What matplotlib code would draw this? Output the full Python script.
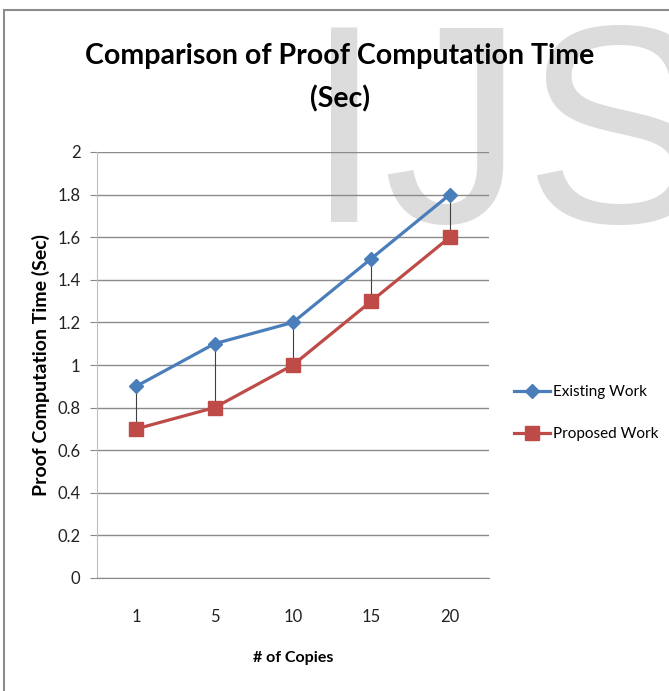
import matplotlib
matplotlib.use("Agg")
import matplotlib.pyplot as plt
from matplotlib.patches import Rectangle

categories = ["1", "5", "10", "15", "20"]
existing = [0.9, 1.1, 1.2, 1.5, 1.8]
proposed = [0.7, 0.8, 1.0, 1.3, 1.6]
yticks = [0, 0.2, 0.4, 0.6, 0.8, 1, 1.2, 1.4, 1.6, 1.8, 2]
ytick_labels = ["0", "0.2", "0.4", "0.6", "0.8", "1", "1.2", "1.4", "1.6", "1.8", "2"]

W, H = 669, 691
fig = plt.figure(figsize=(W / 100, H / 100), dpi=100)
NARROW = ["Lato", "DejaVu Sans"]

# border
fig.patches.append(Rectangle((4 / W, -0.1), 1.2, 1 - 10 / H + 0.1, transform=fig.transFigure,
                             fill=False, edgecolor="#8c8c8c", linewidth=1.5, zorder=-5))
# watermark
fig.text(305 / W, 1 - 222 / H, "IJS", fontsize=203, family=["Liberation Sans", "DejaVu Sans"],
         color="#dcdcdc", ha="left", va="baseline", zorder=-2)

ax = fig.add_axes([97 / W, 1 - 578 / H, (489 - 97) / W, (578 - 152) / H])
ax.set_facecolor("none")
x = list(range(len(categories)))

for xi, e, p in zip(x, existing, proposed):
    ax.plot([xi, xi], [p, e], color="#404040", linewidth=0.8, zorder=2)

ax.plot(x, existing, color="#4a7ebb", linewidth=2.3, marker="D", markersize=7,
        label="Existing Work", zorder=3)
ax.plot(x, proposed, color="#be4b48", linewidth=2.3, marker="s", markersize=10,
        label="Proposed Work", zorder=3)

ax.set_xlim(-0.5, len(categories) - 0.5)
ax.set_ylim(0, 2)
ax.set_yticks(yticks)
ax.set_yticklabels(ytick_labels, family=NARROW, fontsize=12, color="#222222")
ax.set_xticks(x)
ax.set_xticklabels(categories, family=NARROW, fontsize=12, color="#222222")
ax.tick_params(axis="y", length=5, color="#888888", pad=7)
ax.tick_params(axis="x", length=0, pad=22)
ax.grid(axis="y", color="#8a8a8a", linewidth=1)
ax.set_axisbelow(True)
for s in ["top", "right"]:
    ax.spines[s].set_visible(False)
ax.spines["left"].set_color("#c0c0c0")
ax.spines["bottom"].set_color("#8a8a8a")
ax.spines["bottom"].set_bounds(-0.5, 4.5)

ax.set_xlabel("# of Copies", family=NARROW, fontsize=11.5, fontweight="bold", labelpad=19)
ax.set_ylabel("Proof Computation Time (Sec)", family=NARROW, fontsize=14,
              fontweight="bold", labelpad=5)

fig.text(340 / W, 1 - 78 / H, "Comparison of Proof Computation Time\n(Sec)",
         family=NARROW, fontsize=20.5, fontweight="bold", ha="center", va="center",
         linespacing=1.75)

leg = fig.legend(handles=ax.get_lines()[-2:], loc="center left",
                 bbox_to_anchor=(500 / W, 1 - 413 / H), frameon=False,
                 prop={"family": NARROW, "size": 11}, handlelength=2.4,
                 handletextpad=0.15, labelspacing=1.85)

fig.savefig("out.png", dpi=100)
